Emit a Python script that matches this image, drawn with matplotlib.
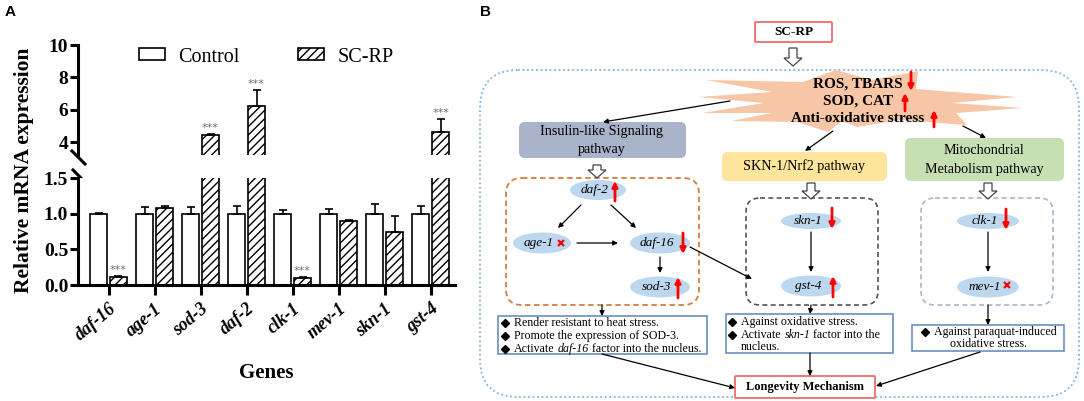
import matplotlib
matplotlib.use("Agg")
import matplotlib.pyplot as plt
from matplotlib.patches import FancyBboxPatch, Ellipse, Polygon
import numpy as np

plt.rcParams["font.family"] = ["Liberation Serif", "DejaVu Sans"]
plt.rcParams["hatch.linewidth"] = 1.0

# ---------------------------------------------------------------------------
# panel A data: relative mRNA expression
# ---------------------------------------------------------------------------
genes = ["daf-16", "age-1", "sod-3", "daf-2", "clk-1", "mev-1", "skn-1", "gst-4"]
control = [1.00, 1.00, 1.00, 1.00, 1.00, 1.00, 1.00, 1.00]
control_err = [0.01, 0.09, 0.09, 0.11, 0.05, 0.07, 0.13, 0.11]
scrp = [0.11, 1.08, 4.45, 6.25, 0.10, 0.90, 0.74, 4.65]
scrp_err = [0.01, 0.03, 0.05, 0.95, 0.01, 0.01, 0.23, 0.77]
signif = ["***", "", "***", "***", "***", "", "", "***"]
lo_ticks = [0.0, 0.5, 1.0, 1.5]
hi_ticks = [4, 6, 8, 10]

W, H = 1084, 401
fig = plt.figure(figsize=(W / 100, H / 100), dpi=100)


def fx(px):
    return px / W


def fy(py):
    return 1 - py / H


# --- panel B canvas (pixel coords, y down) ---------------------------------
axb = fig.add_axes([0, 0, 1, 1], zorder=0)
axb.set_xlim(0, W)
axb.set_ylim(H, 0)
axb.axis("off")

# --- panel A: broken-axis bar chart ----------------------------------------
ax_lo = fig.add_axes([fx(78), fy(285), fx(455) - fx(78), (285 - 178) / H], zorder=2)
ax_hi = fig.add_axes([fx(78), fy(155), fx(455) - fx(78), (155 - 45) / H], zorder=2)

x = np.arange(len(genes))
bw, off = 0.37, 0.217
zeros = np.zeros(len(genes))
for ax in (ax_lo, ax_hi):
    ax.bar(x - off, control, bw, color="white", edgecolor="black", lw=1.2,
           label="Control", zorder=2)
    ax.bar(x + off, scrp, bw, color="white", edgecolor="black", lw=1.2,
           hatch="////", label="SC-RP", zorder=2)
    ax.errorbar(x - off, control, yerr=[zeros, control_err], fmt="none",
                ecolor="black", elinewidth=1.2, capsize=3, capthick=1.2, zorder=3)
    ax.errorbar(x + off, scrp, yerr=[zeros, scrp_err], fmt="none",
                ecolor="black", elinewidth=1.2, capsize=3, capthick=1.2, zorder=3)
    ax.set_xlim(-0.663, 7.53)
    for s in ("top", "right"):
        ax.spines[s].set_visible(False)
    ax.spines["left"].set_linewidth(2.2)
    ax.spines["bottom"].set_linewidth(2.2)
    ax.tick_params(axis="y", width=2.2, length=6, labelsize=14, pad=1)

ax_lo.set_ylim(0, 1.5)
ax_lo.set_yticks(lo_ticks)
ax_lo.set_yticklabels([f"{v:.1f}" for v in lo_ticks], fontweight="bold")
ax_lo.set_xticks(x)
ax_lo.set_xticklabels(genes, rotation=40, ha="right", va="top",
                      rotation_mode="anchor", fontsize=13,
                      fontweight="bold", fontstyle="italic")
ax_lo.tick_params(axis="x", width=2.2, length=7, pad=4)

ax_hi.set_ylim(3.2, 10)
ax_hi.set_yticks(hi_ticks)
ax_hi.set_yticklabels([str(v) for v in hi_ticks], fontweight="bold")
ax_hi.spines["bottom"].set_visible(False)
ax_hi.set_xticks([])

# significance stars
for i, s in enumerate(signif):
    if not s:
        continue
    top = scrp[i] + scrp_err[i]
    ax = ax_hi if scrp[i] > 1.5 else ax_lo
    ax.annotate(s, (x[i] + off, top), xytext=(0, 1), textcoords="offset points",
                ha="center", va="bottom", fontsize=8, color="#6f6f6f",
                family="DejaVu Sans")

# break marks on the left spine
kw = dict(color="black", lw=2.2, clip_on=False, transform=fig.transFigure)
axb.plot([fx(72), fx(85)], [fy(151), fy(164)], **kw)
axb.plot([fx(73), fx(84)], [fy(170), fy(181)], **kw)

ax_hi.legend(loc="center left", bbox_to_anchor=((139 - 78) / 377, (155 - 57) / 110),
             ncol=2, frameon=False, fontsize=14.5, handlelength=1.3,
             handleheight=0.55, handletextpad=0.65, columnspacing=2.9,
             borderpad=0, borderaxespad=0)

fig.text(fx(24), fy(170), "Relative mRNA expression", rotation=90, ha="center",
         va="center", fontsize=15.5, fontweight="bold")
fig.text(fx(266), fy(373), "Genes", ha="center", va="center", fontsize=15,
         fontweight="bold")
fig.text(fx(5), fy(12), "A", ha="left", va="center", fontsize=11,
         fontweight="bold", family="Liberation Sans")
fig.text(fx(480), fy(12), "B", ha="left", va="center", fontsize=11,
         fontweight="bold", family="Liberation Sans")


# ---------------------------------------------------------------------------
# panel B: mechanism diagram
# ---------------------------------------------------------------------------
renderer = fig.canvas.get_renderer()
TXT = 8.6


def rbox(x0, y0, x1, y1, fc="white", ec="none", ls="-", lw=1.0, r=6, z=1):
    axb.add_patch(FancyBboxPatch((x0, y0), x1 - x0, y1 - y0,
                                 boxstyle=f"round,pad=0,rounding_size={r}",
                                 fc=fc, ec=ec, ls=ls, lw=lw, zorder=z))


def arrow(x0, y0, x1, y1, color="black", lw=0.9, ms=7):
    axb.annotate("", xy=(x1, y1), xytext=(x0, y0),
                 arrowprops=dict(arrowstyle="-|>", color=color, lw=lw,
                                 mutation_scale=ms, shrinkA=0, shrinkB=0),
                 zorder=5)


def hollow(xc, y0, y1):
    pts = [(xc - 4, y0), (xc + 4, y0), (xc + 4, y1 - 8), (xc + 9, y1 - 8),
           (xc, y1), (xc - 9, y1 - 8), (xc - 4, y1 - 8)]
    axb.add_patch(Polygon(pts, closed=True, fc="white", ec="#444444", lw=0.9,
                          zorder=5))


def red_arrow(xc, y0, y1):
    arrow(xc, y0, xc, y1, color="#ff0000", lw=2.0, ms=8)


def gene(cx, cy, name, w=58, h=21):
    axb.add_patch(Ellipse((cx, cy), w, h, fc="#bdd7ee", ec="none", zorder=3))
    axb.text(cx - 3, cy, name, ha="center", va="center", fontsize=9.5,
             fontstyle="italic", zorder=4)


def cross(xc, yc):
    axb.plot([xc], [yc], marker="x", color="#ff0000", ms=4.5, mew=1.5, zorder=6)


def rich(x0, y, parts):
    """Left-aligned run of (text, style) pieces, separated by one space."""
    cur = x0
    gap = TXT * 100 / 72 * 0.25
    for s, st in parts:
        t = axb.text(cur, y, s, ha="left", va="center", fontsize=TXT,
                     fontstyle=st, zorder=6)
        bb = t.get_window_extent(renderer)
        cur = axb.transData.inverted().transform((bb.x1, bb.y0))[0] + gap


def bullet(x0, y, parts):
    axb.plot([x0], [y], marker="D", color="black", ms=4.2, zorder=6)
    rich(x0 + 9, y, parts)


# outer dotted frame
rbox(480, 70, 1079, 397, fc="none", ec="#7fb3e6", ls=(0, (1, 1.5)), lw=1.3, r=38)

# SC-RP input box and arrow
rbox(755, 22, 832, 42, fc="white", ec="#ef6b6b", lw=1.3, r=1, z=4)
axb.text(793.5, 32, "SC-RP", ha="center", va="center", fontsize=9.5,
         fontweight="bold", zorder=5)
hollow(793, 48, 66)

# starburst
burst = [(698, 97), (772, 92), (706, 80), (803, 82), (836, 70), (872, 80),
         (918, 71), (916, 89), (1017, 97), (952, 103), (1023, 108), (956, 113),
         (967, 125), (900, 120), (857, 127), (842, 121), (828, 132), (797, 122),
         (731, 121), (772, 113), (702, 113), (764, 103)]
axb.add_patch(Polygon(burst, closed=True, fc="#f7c6a6", ec="none", zorder=2))
axb.text(858, 84, "ROS, TBARS", ha="center", va="center", fontsize=11,
         fontweight="bold", zorder=4)
axb.text(858, 101, "SOD, CAT", ha="center", va="center", fontsize=11,
         fontweight="bold", zorder=4)
axb.text(858, 118, "Anti-oxidative stress", ha="center", va="center",
         fontsize=11, fontweight="bold", zorder=4)
red_arrow(911, 72, 91)
red_arrow(905, 111, 93)
red_arrow(934, 127, 110)

# arrows from the burst to the three pathways
arrow(730, 101, 603, 122)
arrow(833, 131, 805, 151)
arrow(963, 126, 986, 138)

# pathway boxes
rbox(519, 122, 686, 158, fc="#a9b3c9", r=6, z=3)
axb.text(602, 132, "Insulin-like Signaling", ha="center", va="center",
         fontsize=10.2, zorder=4)
axb.text(602, 150, "pathway", ha="center", va="center", fontsize=10.2, zorder=4)
rbox(722, 152, 887, 181, fc="#fde59c", r=6, z=3)
axb.text(804, 166, "SKN-1/Nrf2 pathway", ha="center", va="center",
         fontsize=10.2, zorder=4)
rbox(905, 138, 1064, 181, fc="#c6e0b4", r=6, z=3)
axb.text(984, 150, "Mitochondrial", ha="center", va="center", fontsize=10.2,
         zorder=4)
axb.text(984, 169, "Metabolism pathway", ha="center", va="center",
         fontsize=10.2, zorder=4)

hollow(597, 165, 178)
hollow(811, 183, 199)
hollow(988, 183, 199)

# insulin-like signalling cluster
rbox(506, 178, 699, 305, fc="none", ec="#d97b3a", ls=(0, (3, 2)), lw=1.3, r=16)
gene(598, 190, "daf-2", w=56, h=20)
red_arrow(615, 201, 181)
gene(542, 243, "age-1")
cross(561, 243)
gene(660, 243, "daf-16", w=60)
red_arrow(683, 233, 254)
gene(660, 287, "sod-3", w=60)
red_arrow(678, 298, 277)
arrow(581, 205, 558, 228)
arrow(611, 205, 636, 228)
arrow(577, 243, 618, 243)
arrow(660, 257, 660, 273)
arrow(690, 247, 752, 279)

# SKN-1 cluster
rbox(746, 198, 878, 305, fc="none", ec="#555555", ls=(0, (3, 2)), lw=1.2, r=14)
gene(811, 221, "skn-1", w=60, h=16)
red_arrow(832, 208, 229)
gene(811, 286, "gst-4", w=60)
red_arrow(833, 297, 276)
arrow(811, 232, 811, 272)

# mitochondrial cluster
rbox(921, 198, 1053, 305, fc="none", ec="#a6b6cf", ls=(0, (3, 2)), lw=1.2, r=14)
gene(988, 221, "clk-1", w=62, h=16)
red_arrow(1006, 209, 230)
gene(988, 287, "mev-1", w=62)
cross(1007, 285)
arrow(988, 232, 988, 272)

# outcome text boxes
arrow(602, 305, 602, 316)
rbox(498, 316, 707, 354, fc="white", ec="#6b8fbf", lw=1.2, r=0, z=3)
bullet(505, 323, [("Render resistant to heat stress.", "normal")])
bullet(505, 336, [("Promote the expression of SOD-3.", "normal")])
bullet(505, 349, [("Activate", "normal"), ("daf-16", "italic"),
                  ("factor into the nucleus.", "normal")])

arrow(811, 305, 810, 314)
rbox(726, 314, 893, 353, fc="white", ec="#6b8fbf", lw=1.2, r=0, z=3)
bullet(732, 322, [("Against oxidative stress.", "normal")])
bullet(732, 335, [("Activate", "normal"), ("skn-1", "italic"),
                  ("factor into the", "normal")])
axb.text(741, 347, "nucleus.", ha="left", va="center", fontsize=TXT, zorder=6)

arrow(988, 305, 988, 325)
rbox(912, 325, 1064, 351, fc="white", ec="#6b8fbf", lw=1.2, r=0, z=3)
bullet(925, 332, [("Against paraquat-induced", "normal")])
axb.text(988, 344, "oxidative stress.", ha="center", va="center", fontsize=TXT,
         zorder=6)

# longevity
rbox(735, 376, 875, 398, fc="white", ec="#ef6b6b", lw=1.3, r=1, z=4)
axb.text(805, 387, "Longevity Mechanism", ha="center", va="center",
         fontsize=9, fontweight="bold", zorder=5)
arrow(602, 354, 735, 388)
arrow(810, 353, 810, 376)
arrow(980, 352, 876, 386)

fig.savefig("out.png", dpi=100)
